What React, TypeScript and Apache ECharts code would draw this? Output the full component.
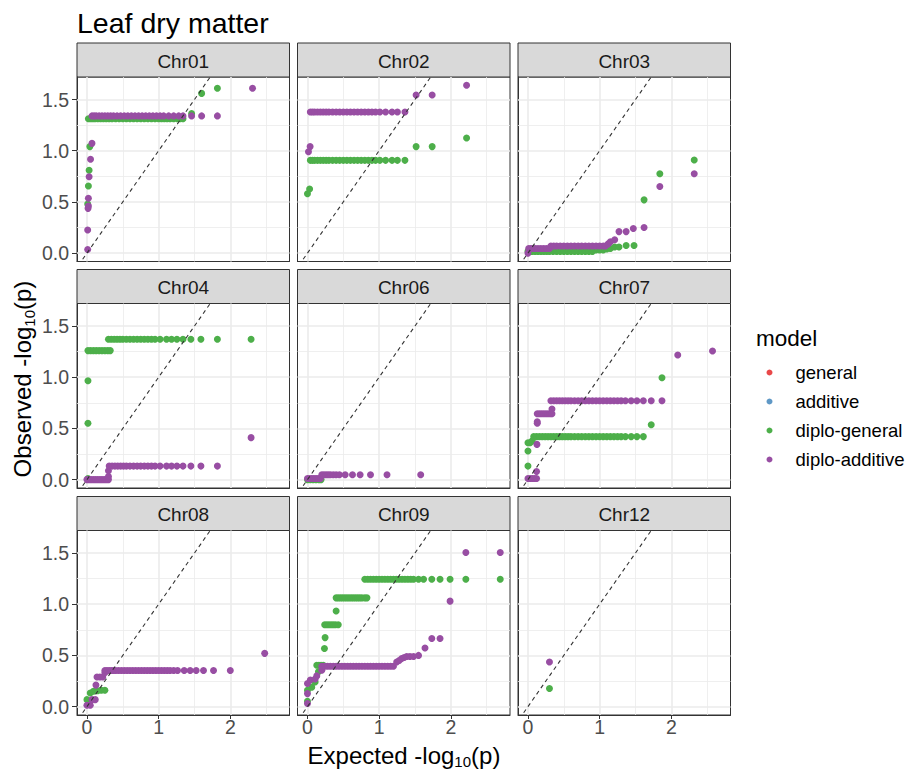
import React, { useEffect, useRef } from "react";
import * as echarts from "echarts";

type Pt = [number, number];
const at = (y: number, xs: number[]): Pt[] => xs.map((x) => [x, y] as Pt);

const chartTitle = "Leaf dry matter";
const legendTitle = "model";
const panelNames = ["Chr01", "Chr02", "Chr03", "Chr04", "Chr06", "Chr07", "Chr08", "Chr09", "Chr12"];
const modelNames = ["general", "additive", "diplo-general", "diplo-additive"];
const modelColors = ["#E41A1C", "#377EB8", "#4DAF4A", "#984EA3"];
const xTicks = [0, 1, 2];
const yTicks = [0, 0.5, 1, 1.5];
const xMinor = [0.5, 1.5, 2.5];
const yMinor = [0.25, 0.75, 1.25];
const xRange = [-0.139, 2.826];
const yRange = [-0.082, 1.72];
const refLineEnds = [-0.3, 1.9];

// ---- data (expected, observed) per panel ----
const chr01General: Pt[] = [
  [0.01, 0.48], [0.02, 0.655], [0.03, 0.81], [0.04, 1.04],
  ...at(1.313, [0.02, 0.05, 0.08, 0.11, 0.15, 0.19, 0.23, 0.27, 0.31, 0.35, 0.4, 0.45, 0.5, 0.55, 0.6, 0.65, 0.7, 0.75, 0.8, 0.85, 0.9, 0.95, 1.0, 1.04, 1.08, 1.12, 1.16, 1.21, 1.26, 1.3, 1.34]),
  [1.46, 1.362], [1.6, 1.56], [1.82, 1.61],
];
const chr01Additive: Pt[] = [
  [0.01, 0.036], [0.01, 0.225], [0.015, 0.437], [0.02, 0.46], [0.02, 0.535], [0.03, 0.746], [0.05, 0.916], [0.07, 1.072],
  ...at(1.34, [0.07, 0.1, 0.13, 0.17, 0.21, 0.25, 0.29, 0.33, 0.37, 0.42, 0.47, 0.52, 0.57, 0.62, 0.67, 0.72, 0.77, 0.82, 0.87, 0.92, 0.97, 1.02, 1.07, 1.14, 1.21, 1.28, 1.34, 1.46, 1.6, 1.82]),
  [2.31, 1.61],
];
const chr02General: Pt[] = [
  [0.0, 0.58], [0.03, 0.626],
  ...at(0.906, [0.04, 0.07, 0.1, 0.14, 0.18, 0.22, 0.26, 0.3, 0.35, 0.4, 0.45, 0.5, 0.55, 0.6, 0.65, 0.7, 0.75, 0.8, 0.85, 0.9, 0.95, 1.01, 1.09, 1.18, 1.255, 1.36]),
  [1.516, 1.04], [1.74, 1.04], [2.22, 1.124],
];
const chr02Additive: Pt[] = [
  [0.014, 0.99], [0.037, 1.04],
  ...at(1.378, [0.04, 0.07, 0.1, 0.14, 0.18, 0.22, 0.26, 0.3, 0.35, 0.4, 0.45, 0.5, 0.55, 0.6, 0.65, 0.7, 0.75, 0.8, 0.85, 0.9, 0.95, 1.01, 1.09, 1.18, 1.255, 1.36]),
  [1.516, 1.545], [1.74, 1.545], [2.22, 1.64],
];
const chr03General: Pt[] = [
  ...at(0.017, [0.0, 0.03, 0.06, 0.1, 0.14, 0.18, 0.22, 0.26, 0.3, 0.35, 0.4, 0.45, 0.5, 0.55, 0.6, 0.65, 0.7, 0.75, 0.8, 0.85, 0.9]),
  ...at(0.03, [0.95, 1.0, 1.05]),
  [1.1, 0.04], [1.15, 0.045], [1.21, 0.06], [1.27, 0.06], [1.37, 0.075], [1.48, 0.075], [1.62, 0.52], [1.84, 0.775], [2.32, 0.91],
];
const chr03Additive: Pt[] = [
  [0.0, 0.0],
  ...at(0.045, [0.01, 0.04, 0.07, 0.1, 0.14, 0.18, 0.22, 0.26, 0.3]),
  ...at(0.07, [0.32, 0.36, 0.4, 0.45, 0.5, 0.55, 0.6, 0.65, 0.7, 0.75, 0.8, 0.85, 0.9, 0.95, 1.0, 1.05, 1.08]),
  [1.12, 0.09], [1.15, 0.11], [1.21, 0.13], [1.27, 0.21], [1.37, 0.21], [1.47, 0.24], [1.62, 0.25], [1.84, 0.65], [2.32, 0.775],
];
const chr04General: Pt[] = [
  [0.014, 0.01], [0.014, 0.55], [0.014, 0.966],
  ...at(1.26, [0.014, 0.05, 0.09, 0.13, 0.17, 0.21, 0.25, 0.29, 0.325]),
  ...at(1.37, [0.3, 0.34, 0.38, 0.42, 0.46, 0.5, 0.55, 0.6, 0.65, 0.7, 0.75, 0.8, 0.85, 0.9, 0.95, 1.02, 1.11, 1.18, 1.255, 1.34, 1.45, 1.59, 1.82, 2.29]),
];
const chr04Additive: Pt[] = [
  ...at(0.0, [0.0, 0.03, 0.06, 0.09, 0.12, 0.15, 0.18, 0.21, 0.24, 0.27, 0.3]),
  [0.3, 0.03], [0.3, 0.086],
  ...at(0.132, [0.31, 0.35, 0.39, 0.43, 0.47, 0.51, 0.55, 0.6, 0.65, 0.7, 0.75, 0.8, 0.85, 0.9, 0.95, 1.02, 1.11, 1.18, 1.255, 1.34, 1.45, 1.59, 1.82]),
  [2.29, 0.41],
];
const chr06General: Pt[] = [
  ...at(0.0, [0.0, 0.04, 0.08, 0.12, 0.16, 0.19]),
];
const chr06Additive: Pt[] = [
  ...at(0.01, [0.0, 0.03, 0.06, 0.09, 0.12, 0.15, 0.18]),
  ...at(0.047, [0.2, 0.23, 0.26, 0.29, 0.32, 0.36, 0.4, 0.446, 0.526, 0.628, 0.735, 0.88, 1.11, 1.58]),
];
const chr07General: Pt[] = [
  [0.0, 0.132], [0.0, 0.28],
  ...at(0.36, [0.0, 0.03]),
  [0.06, 0.38],
  ...at(0.42, [0.08, 0.12, 0.16, 0.2, 0.24, 0.28, 0.32, 0.36, 0.4, 0.44, 0.48, 0.52, 0.56, 0.6, 0.65, 0.7, 0.75, 0.8, 0.85, 0.9, 0.95, 1.0, 1.05, 1.1, 1.15, 1.2, 1.25, 1.3, 1.36, 1.44, 1.52, 1.61]),
  [1.72, 0.536], [1.87, 0.995],
];
const chr07Additive: Pt[] = [
  [0.0, 0.01], [0.03, 0.01], [0.06, 0.01], [0.09, 0.01], [0.12, 0.01], [0.12, 0.08], [0.125, 0.344], [0.13, 0.55], [0.13, 0.565],
  ...at(0.643, [0.13, 0.16, 0.19, 0.22, 0.25, 0.28, 0.31, 0.335]),
  [0.335, 0.69],
  ...at(0.77, [0.32, 0.36, 0.4, 0.44, 0.48, 0.52, 0.56, 0.6, 0.65, 0.7, 0.75, 0.8, 0.85, 0.9, 0.95, 1.0, 1.05, 1.1, 1.15, 1.2, 1.25, 1.3, 1.36, 1.44, 1.52, 1.61, 1.72, 1.87]),
  [2.09, 1.217], [2.575, 1.256],
];
const chr08General: Pt[] = [
  [0.0, 0.068], [0.046, 0.133], [0.09, 0.15], [0.15, 0.155], [0.2, 0.16], [0.25, 0.16],
];
const chr08Additive: Pt[] = [
  [0.0, 0.013], [0.046, 0.013], [0.07, 0.068], [0.116, 0.068], [0.125, 0.21],
  ...at(0.29, [0.14, 0.18, 0.22]),
  [0.25, 0.33],
  ...at(0.352, [0.25, 0.28, 0.31, 0.34, 0.37, 0.4, 0.44, 0.48, 0.52, 0.56, 0.6, 0.64, 0.68, 0.72, 0.76, 0.8, 0.84, 0.88, 0.92, 0.96, 1.0, 1.04, 1.08, 1.12, 1.16, 1.21, 1.264, 1.357, 1.44, 1.524, 1.626, 1.766, 2.0]),
  [2.48, 0.52],
];
const chr09General: Pt[] = [
  [0.0, 0.052], [0.0, 0.16], [0.06, 0.19], [0.107, 0.24], [0.153, 0.34],
  ...at(0.404, [0.13, 0.16, 0.19, 0.22]),
  [0.237, 0.567], [0.246, 0.674],
  ...at(0.8, [0.24, 0.27, 0.3, 0.33, 0.36, 0.39, 0.43]),
  [0.4, 0.934],
  ...at(1.062, [0.4, 0.43, 0.46, 0.49, 0.52, 0.55, 0.58, 0.61, 0.64, 0.67, 0.7, 0.73, 0.76, 0.8, 0.83]),
  ...at(1.244, [0.8, 0.84, 0.88, 0.92, 0.96, 1.0, 1.04, 1.08, 1.12, 1.16, 1.2, 1.24, 1.28, 1.32, 1.36, 1.4, 1.44, 1.48, 1.55, 1.62, 1.735, 1.85, 1.99, 2.21, 2.69]),
];
const chr09Additive: Pt[] = [
  [0.0, 0.03], [0.0, 0.127], [0.0, 0.225], [0.04, 0.26], [0.107, 0.27], [0.13, 0.3], [0.2, 0.355],
  ...at(0.394, [0.2, 0.24, 0.28, 0.32, 0.36, 0.4, 0.44, 0.48, 0.52, 0.56, 0.6, 0.64, 0.68, 0.72, 0.76, 0.8, 0.84, 0.88, 0.92, 0.96, 1.0, 1.04, 1.08, 1.12, 1.16, 1.2]),
  [1.245, 0.436], [1.28, 0.45], [1.315, 0.47], [1.35, 0.48], [1.385, 0.49], [1.43, 0.49], [1.48, 0.49], [1.55, 0.5],
  [1.64, 0.573], [1.735, 0.665], [1.85, 0.665], [1.99, 1.03], [2.21, 1.505], [2.69, 1.505],
];
const chr12General: Pt[] = [[0.3, 0.176]];
const chr12Additive: Pt[] = [[0.3, 0.436]];

const diploGeneralByPanel = [chr01General, chr02General, chr03General, chr04General, chr06General, chr07General, chr08General, chr09General, chr12General];
const diploAdditiveByPanel = [chr01Additive, chr02Additive, chr03Additive, chr04Additive, chr06Additive, chr07Additive, chr08Additive, chr09Additive, chr12Additive];

// ---- layout ----
const FONT = "'Liberation Sans', Arial, Helvetica, sans-serif";
const colLeft = [77, 297.5, 518];
const rowTop = [77, 303.5, 530.5];
const PW = 212.5;
const PH = 184.5;
const SH = 34;

export default function App() {
  const ref = useRef<HTMLDivElement>(null);
  useEffect(() => {
    if (!ref.current) return;
    const chart = echarts.init(ref.current, null, { renderer: "svg" });

    const grids: any[] = [];
    const xAxes: any[] = [];
    const yAxes: any[] = [];
    const series: any[] = [];
    const graphics: any[] = [];

    panelNames.forEach((name, i) => {
      const col = i % 3;
      const row = Math.floor(i / 3);
      const left = colLeft[col];
      const top = rowTop[row];
      const isBottom = row === 2;
      const isLeft = col === 0;
      grids.push({
        left, top, width: PW, height: PH, show: true,
        borderColor: "#333333", borderWidth: 1, backgroundColor: "#FFFFFF",
      });
      xAxes.push({
        type: "value", gridIndex: i, min: xRange[0], max: xRange[1],
        axisLine: { show: true, onZero: false, lineStyle: { color: "#333333", width: 1 } },
        splitLine: { show: false },
        axisTick: { show: isBottom, customValues: xTicks, length: 4, lineStyle: { color: "#333333" } },
        axisLabel: {
          show: isBottom, customValues: xTicks, formatter: (v: number) => String(Math.round(v)),
          color: "#4D4D4D", fontSize: 19.5, fontFamily: FONT, margin: 2,
        },
      });
      yAxes.push({
        type: "value", gridIndex: i, min: yRange[0], max: yRange[1],
        axisLine: { show: true, onZero: false, lineStyle: { color: "#333333", width: 1 } },
        splitLine: { show: false },
        axisTick: { show: isLeft, customValues: yTicks, length: 5, lineStyle: { color: "#333333" } },
        axisLabel: {
          show: isLeft, customValues: yTicks, formatter: (v: number) => v.toFixed(1),
          color: "#4D4D4D", fontSize: 19.5, fontFamily: FONT, margin: 8,
        },
      });
      const gl = (lineW: number) => ({ color: "#EBEBEB", width: lineW, type: "solid" });
      series.push({
        type: "line", name: "ref", xAxisIndex: i, yAxisIndex: i,
        data: refLineEnds.map((v) => [v, v]),
        symbol: "none", silent: true, z: 4, clip: true,
        lineStyle: { color: "#333333", width: 1.1, type: [4, 3.5] },
        markLine: {
          silent: true, symbol: ["none", "none"], z: 1, animation: false,
          label: { show: false }, emphasis: { disabled: true },
          data: [
            ...xMinor.map((v) => ({ xAxis: v, lineStyle: gl(0.8) })),
            ...yMinor.map((v) => ({ yAxis: v, lineStyle: gl(0.8) })),
            ...xTicks.map((v) => ({ xAxis: v, lineStyle: gl(1.6) })),
            ...yTicks.map((v) => ({ yAxis: v, lineStyle: gl(1.6) })),
          ],
        },
      });
      series.push({
        type: "scatter", name: "diplo-general", xAxisIndex: i, yAxisIndex: i,
        data: diploGeneralByPanel[i], symbolSize: 7, z: 2,
        itemStyle: { color: modelColors[2], opacity: 1 },
      });
      series.push({
        type: "scatter", name: "diplo-additive", xAxisIndex: i, yAxisIndex: i,
        data: diploAdditiveByPanel[i], symbolSize: 7, z: 3,
        itemStyle: { color: modelColors[3], opacity: 1 },
      });
      graphics.push({
        type: "rect", shape: { x: left, y: top - SH, width: PW, height: SH },
        style: { fill: "#D9D9D9", stroke: "#333333", lineWidth: 1 }, silent: true,
      });
      graphics.push({
        type: "text", x: left + PW / 2, y: top - SH / 2 + 1,
        style: { text: name, fontSize: 19, fontFamily: FONT, fill: "#1A1A1A", align: "center", verticalAlign: "middle" },
        silent: true,
      });
    });

    series.push({ type: "scatter", name: "general", xAxisIndex: 0, yAxisIndex: 0, data: [], itemStyle: { color: modelColors[0] } });
    series.push({ type: "scatter", name: "additive", xAxisIndex: 0, yAxisIndex: 0, data: [], itemStyle: { color: modelColors[1] } });

    const rich = {
      a: { fontSize: 24, lineHeight: 28, fontFamily: FONT, fill: "#000000", color: "#000000" },
      s: { fontSize: 15, lineHeight: 13, fontFamily: FONT, verticalAlign: "bottom", fill: "#000000", color: "#000000" },
    };

    graphics.push({
      type: "text", x: 77, y: 22.8,
      style: { text: chartTitle, fontSize: 28.5, fontFamily: FONT, fill: "#000000", align: "left", verticalAlign: "middle" },
      silent: true,
    });
    graphics.push({
      type: "text", x: 404, y: 755,
      style: { text: "{a|Expected -log}{s|10}{a|(p)}", rich, align: "center", verticalAlign: "middle", fontFamily: FONT },
      silent: true,
    });
    graphics.push({
      type: "text", x: 22.5, y: 379, rotation: Math.PI / 2,
      style: { text: "{a|Observed -log}{s|10}{a|(p)}", rich, align: "center", verticalAlign: "middle", fontFamily: FONT },
      silent: true,
    });
    graphics.push({
      type: "text", x: 756, y: 338,
      style: { text: legendTitle, fontSize: 22.5, fontFamily: FONT, fill: "#000000", align: "left", verticalAlign: "middle" },
      silent: true,
    });

    chart.setOption({
      animation: false,
      backgroundColor: "#FFFFFF",
      textStyle: { fontFamily: FONT },
      color: modelColors,
      grid: grids,
      xAxis: xAxes,
      yAxis: yAxes,
      series,
      legend: {
        data: modelNames.map((n) => ({ name: n, icon: "circle" })),
        orient: "vertical", left: 766.5, top: 363, padding: 0,
        itemWidth: 6, itemHeight: 6, itemGap: 10, selectedMode: false,
        textStyle: { fontSize: 18.5, color: "#000000", fontFamily: FONT, lineHeight: 18, padding: [0, 0, 0, 18] },
      },
      graphic: graphics,
    });
    return () => chart.dispose();
  }, []);
  return <div ref={ref} style={{ position: "fixed", left: 0, top: 0, width: 907, height: 771 }} />;
}
